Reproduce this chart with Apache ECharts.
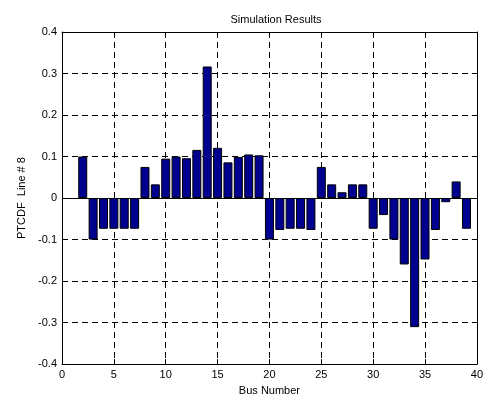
<!DOCTYPE html>
<html>
<head>
<meta charset="utf-8">
<script src="https://cdn.jsdelivr.net/npm/echarts@6/dist/echarts.min.js"></script>
<style>
  html, body { margin: 0; padding: 0; background: #fff; }
  #chart { width: 486px; height: 401px; }
</style>
</head>
<body>
<div id="chart"></div>
<script>
// bus numbers and PTCDF values
var buses = [2, 3, 4, 5, 6, 7, 8, 9, 10, 11, 12, 13, 14, 15, 16, 17, 18, 19, 20,
  21, 22, 23, 24, 25, 26, 27, 28, 29, 30, 31, 32, 33, 34, 35, 36, 37, 38, 39]
var ptcdf = [0.1, -0.1, -0.074, -0.074, -0.074, -0.074, 0.075, 0.033, 0.095, 0.1,
  0.096, 0.116, 0.317, 0.121, 0.086, 0.099, 0.105, 0.103, -0.1,
  -0.077, -0.074, -0.074, -0.077, 0.075, 0.033, 0.014, 0.033, 0.033, -0.074, -0.041,
  -0.1, -0.16, -0.311, -0.148, -0.077, -0.01, 0.04, -0.074]
var xTicks = [0, 5, 10, 15, 20, 25, 30, 35, 40]
var yTicks = [-0.4, -0.3, -0.2, -0.1, 0, 0.1, 0.2, 0.3, 0.4]

var font = 'Liberation Sans, Arial, sans-serif'
var chart = echarts.init(document.getElementById('chart'))

var seriesData = buses.map(function (b, i) { return [b, ptcdf[i]] })

var gridLine = { show: true, lineStyle: { color: '#000', type: [6, 4], width: 1 } }
var boxLine = { show: true, onZero: false, lineStyle: { color: '#000', width: 1 } }
var tick = { show: true, inside: true, length: 5, lineStyle: { color: '#000' } }

var option = {
  animation: false,
  title: {
    text: 'Simulation Results',
    left: 271, top: 9, textAlign: 'center',
    textStyle: { fontFamily: font, fontSize: 11, fontWeight: 'normal', color: '#000' }
  },
  grid: { left: 62, right: 7, top: 32, bottom: 35, containLabel: false },
  xAxis: [{
    type: 'value', min: xTicks[0], max: xTicks[xTicks.length - 1], interval: 5,
    position: 'bottom',
    name: 'Bus Number', nameLocation: 'middle', nameGap: 20,
    nameTextStyle: { fontFamily: font, fontSize: 11, color: '#000' },
    axisLine: boxLine, axisTick: tick,
    axisLabel: { fontFamily: font, fontSize: 11, color: '#000', margin: 5 },
    splitLine: gridLine
  }, {
    type: 'value', min: xTicks[0], max: xTicks[xTicks.length - 1], interval: 5,
    position: 'top', axisLine: boxLine, axisTick: tick,
    axisLabel: { show: false }, splitLine: { show: false }
  }],
  yAxis: [{
    type: 'value', min: yTicks[0], max: yTicks[yTicks.length - 1], interval: 0.1,
    position: 'left',
    name: 'PTCDF  Line # 8', nameLocation: 'middle', nameGap: 31,
    nameTextStyle: { fontFamily: font, fontSize: 11, color: '#000' },
    axisLine: boxLine, axisTick: tick,
    axisLabel: {
      fontFamily: font, fontSize: 11, color: '#000', margin: 5,
      formatter: function (v) { return String(Math.round(v * 10) / 10) }
    },
    splitLine: gridLine
  }, {
    type: 'value', min: yTicks[0], max: yTicks[yTicks.length - 1], interval: 0.1,
    position: 'right', axisLine: boxLine, axisTick: tick,
    axisLabel: { show: false }, splitLine: { show: false }
  }],
  series: [{
    type: 'bar',
    data: seriesData,
    barWidth: 9,
    itemStyle: { color: '#00008f', borderColor: '#000', borderWidth: 1 }
  }, {
    // zero line across the plot
    type: 'line', data: [], markLine: {
      silent: true, symbol: 'none', label: { show: false },
      lineStyle: { color: '#000', type: 'solid', width: 1 },
      data: [{ yAxis: 0 }]
    }
  }]
}
option && chart.setOption(option)
</script>
</body>
</html>
